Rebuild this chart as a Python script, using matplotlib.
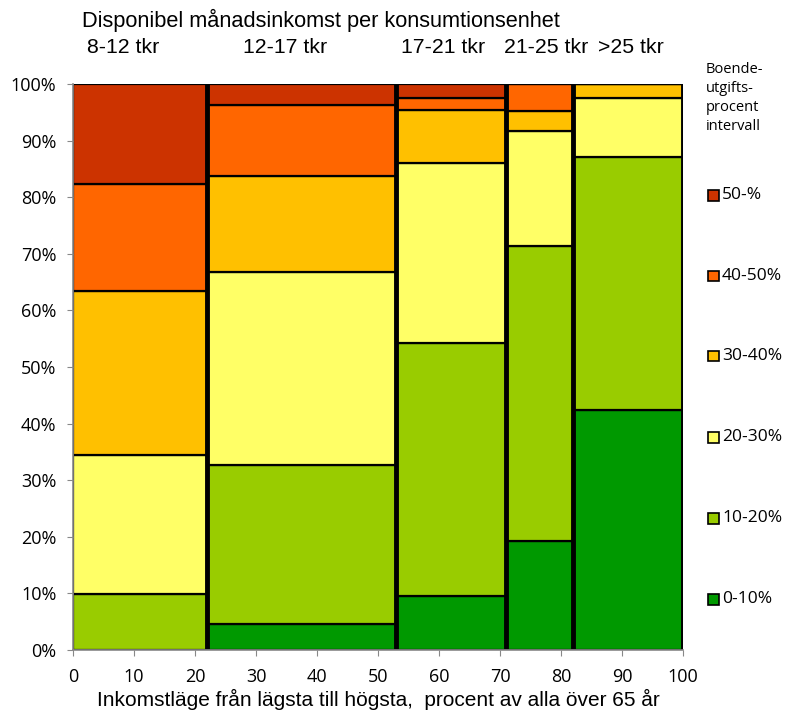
import matplotlib.pyplot as plt
from matplotlib.patches import Rectangle

plt.rcParams['font.family'] = ['Liberation Sans', 'DejaVu Sans']

# column edges along x (percent of all over 65)
col_edges = [0, 22, 53, 71, 82, 100]
income_groups = ['8-12 tkr', '12-17 tkr', '17-21 tkr', '21-25 tkr', '>25 tkr']
group_label_x = [8.2, 34.8, 60.6, 77.5, 91.5]

categories = ['0-10%', '10-20%', '20-30%', '30-40%', '40-50%', '50-%']
colors = ['#009900', '#99CC00', '#FFFF66', '#FFC000', '#FF6600', '#CC3300']

# share (%) of each housing-cost category per income column
share_0_10 = [0.0, 4.6, 9.6, 19.2, 42.4]
share_10_20 = [9.9, 28.0, 44.6, 52.1, 44.7]
share_20_30 = [24.6, 34.2, 31.9, 20.4, 10.4]
share_30_40 = [28.9, 17.0, 9.3, 3.5, 2.5]
share_40_50 = [18.9, 12.5, 2.1, 4.8, 0.0]
share_50 = [17.7, 3.7, 2.5, 0.0, 0.0]
shares = [share_0_10, share_10_20, share_20_30, share_30_40, share_40_50, share_50]

fig = plt.figure(figsize=(7.9, 7.15), dpi=100)
ax = fig.add_axes([0.0924, 0.0909, 0.7722, 0.7916])

lefts = col_edges[:-1]
widths = [col_edges[i + 1] - col_edges[i] for i in range(len(lefts))]
bottoms = [0.0] * len(lefts)
for cat, col, vals in zip(categories, colors, shares):
    ax.bar(lefts, vals, width=widths, bottom=bottoms, align='edge',
           color=col, edgecolor='black', linewidth=1.6, label=cat)
    bottoms = [b + v for b, v in zip(bottoms, vals)]

# thick separators between the columns
for xe in col_edges[1:]:
    ax.plot([xe, xe], [0, 100], color='black', linewidth=3.5, solid_capstyle='butt')

ax.set_xlim(0, 100)
ax.set_ylim(0, 100)
ax.set_xticks(range(0, 101, 10))
ax.set_yticks(range(0, 101, 10))
ax.set_yticklabels([f'{v}%' for v in range(0, 101, 10)])
ax.tick_params(direction='out', length=4, color='#888888', labelsize=13)
ax.tick_params(axis='x', pad=9)
ax.tick_params(axis='y', pad=8)
for lab in ax.get_xticklabels() + ax.get_yticklabels():
    lab.set_family(['Open Sans', 'DejaVu Sans'])
for s in ['top', 'right']:
    ax.spines[s].set_visible(False)
for s in ['left', 'bottom']:
    ax.spines[s].set_color('#888888')
    ax.spines[s].set_linewidth(1.2)

ax.set_xlabel('Inkomstläge från lägsta till högsta,  procent av alla över 65 år',
              fontsize=15, labelpad=2)

fig.text(0.104, 0.971, 'Disponibel månadsinkomst per konsumtionsenhet',
         fontsize=15.7, va='center')
for lab, xl in zip(income_groups, group_label_x):
    xf = 0.0924 + 0.7722 * xl / 100
    fig.text(xf, 0.934, lab, fontsize=15.3, ha='center', va='center')

# legend drawn by hand
fig.text(0.893, 0.863, 'Boende-\nutgifts-\nprocent\nintervall', fontsize=10.5,
         family=['Open Sans', 'DejaVu Sans'], va='center', ha='left', linespacing=1.35)
legend_y = [599, 518, 437, 356, 276, 195]
for cat, col, yp in zip(categories, colors, legend_y):
    yf = 1 - yp / 715
    fig.add_artist(Rectangle((708 / 790, yf - 5.5 / 715), 11 / 790, 11 / 715,
                             transform=fig.transFigure, facecolor=col,
                             edgecolor='black', linewidth=1.2))
    fig.text(722 / 790, yf, cat, fontsize=12.5, family=['Open Sans', 'DejaVu Sans'],
             va='center', ha='left')

fig.savefig('out.png', dpi=100)
